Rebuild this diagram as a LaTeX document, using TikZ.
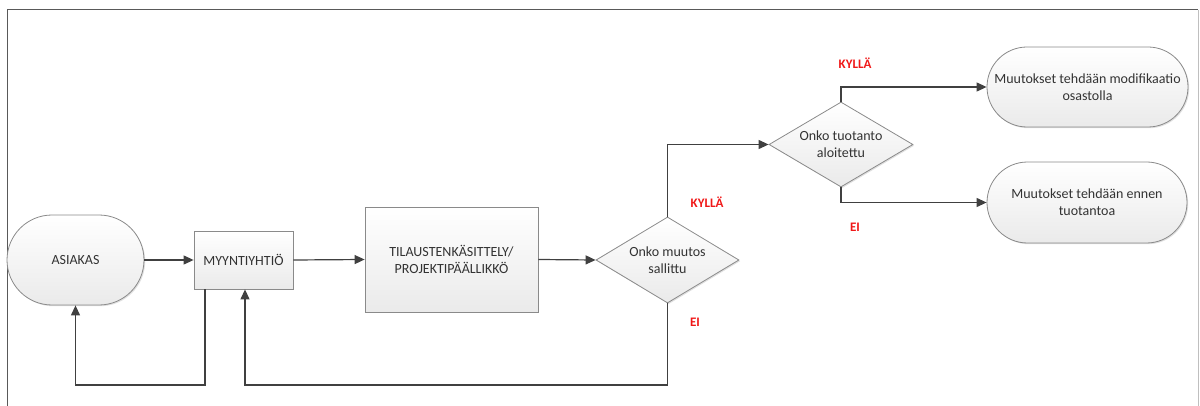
\documentclass[tikz,border=0pt]{standalone}
\usepackage{fontspec}
\setmainfont{Carlito}
\usetikzlibrary{arrows.meta,shapes.geometric,shapes.misc,shadows}
\definecolor{lineC}{HTML}{404040}
\definecolor{edgeC}{HTML}{8A8A8A}
\definecolor{fillB}{HTML}{EAEAEA}
\definecolor{redC}{HTML}{F01818}
\tikzset{
  shapebase/.style={draw=edgeC, line width=0.8pt, top color=white, bottom color=fillB,
    drop shadow={shadow xshift=1.2pt, shadow yshift=-1.2pt, opacity=0.25},
    text=black!80, font=\fontsize{14}{17}\selectfont, align=center, inner sep=0pt},
  boxnode/.style={shapebase, rectangle},
  termnode/.style={shapebase, rounded rectangle},
  decnode/.style={shapebase, diamond, aspect=1.66},
  dtext/.style={font=\fontsize{14}{17}\selectfont, text=black!80, align=center},
  conn/.style={draw=lineC, line width=1.2pt, -{Triangle[length=10pt,width=9pt]}},
  lbl/.style={text=redC, font=\bfseries\fontsize{13}{15}\selectfont, inner sep=0pt}
}
\begin{document}
\begin{tikzpicture}[x=1pt,y=-1pt]
\useasboundingbox (0,0) rectangle (1200,406);
% frame
\draw[draw=black!65, line width=1pt] (7,406) -- (7,10) -- (1198,10);
\draw[draw=black!25, line width=0.8pt] (1198,10) -- (1198,406);

\node[termnode, minimum width=137pt, minimum height=90pt] (as) at (75.5,260) {ASIAKAS};
\node[boxnode, minimum width=99pt, minimum height=58pt] (my) at (243.5,260) {MYYNTIYHTIÖ};
\node[boxnode, minimum width=173pt, minimum height=105pt] (ti) at (451.5,259.5) {TILAUSTENKÄSITTELY/\\PROJEKTIPÄÄLLIKKÖ};
\node[decnode, minimum width=143pt, minimum height=86pt] (d1) at (667.5,260) {};
\node[dtext] (d1t) at (d1) {Onko muutos\\sallittu};
\node[decnode, minimum width=144pt, minimum height=85pt] (d2) at (841,144.5) {};
\node[dtext] (d2t) at (d2) {Onko tuotanto\\aloitettu};
\node[termnode, minimum width=201pt, minimum height=80pt] (s1) at (1087.5,87) {Muutokset tehdään modifikaatio\\osastolla};
\node[termnode, minimum width=200pt, minimum height=81pt] (s2) at (1087,202.5) {Muutokset tehdään ennen\\tuotantoa};

\coordinate (f1) at (205,385);
\coordinate (f2) at (245,385);

\draw[conn] (as.east) -- (my.west);
\draw[conn] (my.east) -- (ti.west);
\draw[conn] (ti.east) -- (d1.west);
\draw[conn] (d1.north) |- (d2.west);
\draw[conn] (d2.north) |- (s1.west);
\draw[conn] (d2.south) |- (s2.west);
\draw[conn] (f1 |- my.south) -- (f1) -| (as.south);
\draw[conn] (d1.south) |- (f2) -- (f2 |- my.south);

\node[lbl] (k1) at (707,202) {KYLLÄ};
\node[lbl] (e1) at (695,322) {EI};
\node[lbl] (k2) at (855,63) {KYLLÄ};
\node[lbl] (e2) at (855,227) {EI};
\end{tikzpicture}
\end{document}
